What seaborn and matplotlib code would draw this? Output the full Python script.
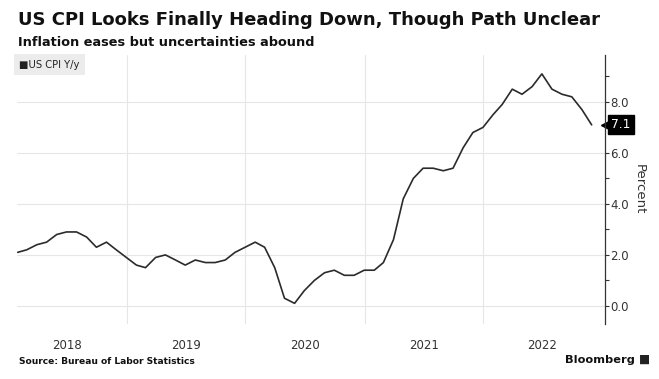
import numpy as np
import pandas as pd
import matplotlib
matplotlib.use("Agg")
import matplotlib.pyplot as plt
import matplotlib.dates as mdates
import seaborn as sns

# Data: US CPI year-over-year, monthly (plotted at month end)
months = pd.date_range("2018-01-31", "2022-11-30", freq="ME")
cpi_yoy = [
    2.1, 2.2, 2.4, 2.5, 2.8, 2.9, 2.9, 2.7, 2.3, 2.5, 2.2, 1.9,
    1.6, 1.5, 1.9, 2.0, 1.8, 1.6, 1.8, 1.7, 1.7, 1.8, 2.1, 2.3,
    2.5, 2.3, 1.5, 0.3, 0.1, 0.6, 1.0, 1.3, 1.4, 1.2, 1.2, 1.4,
    1.4, 1.7, 2.6, 4.2, 5.0, 5.4, 5.4, 5.3, 5.4, 6.2, 6.8, 7.0,
    7.5, 7.9, 8.5, 8.3, 8.6, 9.1, 8.5, 8.3, 8.2, 7.7, 7.1,
]
year_labels = ["2018", "2019", "2020", "2021", "2022"]
y_ticks = [0, 2, 4, 6, 8]
series_name = "US CPI Y/y"

df = pd.DataFrame({"date": months, "value": cpi_yoy})

sns.set_theme(style="white")
plt.rcParams["font.family"] = ["DejaVu Sans"]

fig = plt.figure(figsize=(6.59, 3.79), dpi=100)
ax = fig.add_axes([17/659, 55/379, (605-17)/659, (324-55)/379])

sns.lineplot(data=df, x="date", y="value", ax=ax, color="#2b2b2b", linewidth=1.2)

ax.set_xlim(pd.Timestamp("2018-01-29"), pd.Timestamp("2023-01-10"))
ax.set_ylim(-0.71, 9.84)

# Vertical gridlines at year boundaries, labels mid-year
year_starts = [pd.Timestamp(f"{int(y)+1}-01-01") for y in year_labels[:-1]]
ax.set_xticks(year_starts)
ax.set_xticklabels([""] * len(year_starts))
mids = [pd.Timestamp(f"{y}-07-02") for y in year_labels]
ax.set_xticks(mids, minor=True)
ax.set_xticklabels(year_labels, minor=True)
ax.tick_params(axis="x", which="both", length=0, pad=10.5, labelsize=8.5, colors="#333333")
ax.grid(axis="x", which="major", color="#e6e6e6", linewidth=0.8)

# Right-side y axis
ax.yaxis.tick_right()
ax.set_yticks(y_ticks)
ax.set_yticklabels([f"{v:.1f}" for v in y_ticks])
ax.set_yticks([1, 3, 5, 7, 9], minor=True)
ax.tick_params(axis="y", which="major", length=3, width=0.8, color="#333333",
               labelsize=8.5, labelcolor="#333333", pad=1, direction="out")
ax.tick_params(axis="y", which="minor", length=3, width=0.8, color="#333333", direction="out")
ax.grid(axis="y", which="major", color="#e6e6e6", linewidth=0.8)
ax.yaxis.set_label_position("right")
ax.set_ylabel("Percent", rotation=270, fontsize=9.5, color="#333333", labelpad=12)
ax.set_xlabel("")

for s in ["top", "left", "bottom"]:
    ax.spines[s].set_visible(False)
ax.spines["right"].set_color("#333333")
ax.spines["right"].set_linewidth(0.9)

# Last value tag: small pointer + black box
last = cpi_yoy[-1]
ax.plot([1.0], [last], marker="<", markersize=6, color="black",
        transform=ax.get_yaxis_transform(), clip_on=False)
ax.annotate(f"{last:.1f}", xy=(1.0, last), xycoords=("axes fraction", "data"),
            xytext=(4.5, 0), textcoords="offset points", va="center", ha="left",
            fontsize=8.8, color="white",
            bbox=dict(boxstyle="square,pad=0.25", fc="black", ec="black"))

# Legend box
ax.text(0.0035, 0.982, "\u25A0US CPI Y/y", transform=ax.transAxes, fontsize=7.2,
        color="#222222", va="top", ha="left",
        bbox=dict(boxstyle="square,pad=0.55", fc="#ececec", ec="none"))

# Titles
fig.text(18/659, 1 - 20/379, "US CPI Looks Finally Heading Down, Though Path Unclear",
         fontsize=13.0, fontweight="bold", color="#111111", va="center", ha="left")
fig.text(18/659, 1 - 43/379, "Inflation eases but uncertainties abound",
         fontsize=9.3, fontweight="bold", color="#111111", va="center", ha="left")
fig.text(19/659, 1 - 361/379, "Source: Bureau of Labor Statistics",
         fontsize=6.6, fontweight="bold", color="#111111", va="center", ha="left")
fig.text(635/659, 1 - 360/379, "Bloomberg", fontsize=8.2, fontweight="bold",
         color="#111111", va="center", ha="right")
fig.text(639/659, 1 - 359/379, "\u25A0", fontsize=8.5, color="#222222", va="center", ha="left")

fig.savefig("out.png", dpi=100, facecolor="white")
